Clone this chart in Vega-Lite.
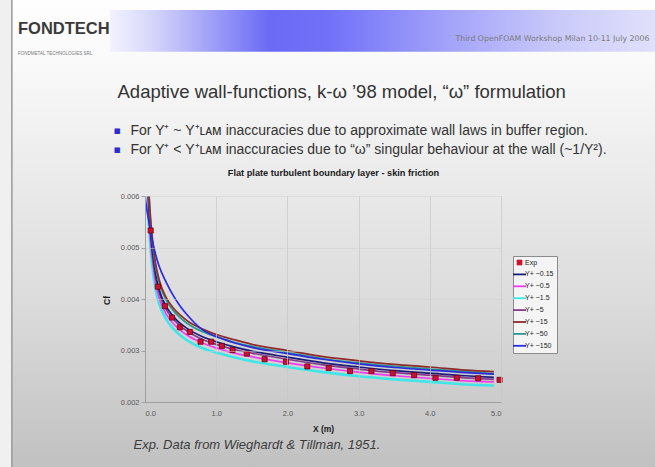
{
  "$schema": "https://vega.github.io/schema/vega-lite/v6.json",
  "width": 356,
  "height": 206,
  "autosize": {"type": "none"},
  "padding": {"left": 145, "top": 196, "right": 154, "bottom": 65},
  "background": "#f0f0f0",
  "config": {"view": {"stroke": null}},
  "title": {
    "text": "FONDTECH",
    "subtitle": "FONDMETAL TECHNOLOGIES SRL",
    "anchor": "start",
    "frame": "group",
    "dx": -127,
    "offset": -77,
    "font": "Liberation Sans",
    "fontSize": 16.5,
    "fontWeight": "bold",
    "color": "#3a3a3a",
    "subtitleFont": "Liberation Sans",
    "subtitleFontSize": 4.5,
    "subtitleColor": "#777777",
    "subtitlePadding": 14
  },
  "datasets": {
    "curves": [
      {"s": "Y+ ~1.5", "x": 0.02, "cf": 0.007}, {"s": "Y+ ~1.5", "x": 0.04, "cf": 0.00588}, {"s": "Y+ ~1.5", "x": 0.06, "cf": 0.00532}, {"s": "Y+ ~1.5", "x": 0.08, "cf": 0.00495}, {"s": "Y+ ~1.5", "x": 0.1, "cf": 0.00467}, {"s": "Y+ ~1.5", "x": 0.15, "cf": 0.00418}, {"s": "Y+ ~1.5", "x": 0.2, "cf": 0.0039}, {"s": "Y+ ~1.5", "x": 0.3, "cf": 0.0036}, {"s": "Y+ ~1.5", "x": 0.4, "cf": 0.00342}, {"s": "Y+ ~1.5", "x": 0.5, "cf": 0.00329}, {"s": "Y+ ~1.5", "x": 0.6, "cf": 0.00319}, {"s": "Y+ ~1.5", "x": 0.8, "cf": 0.00305}, {"s": "Y+ ~1.5", "x": 1.0, "cf": 0.00296}, {"s": "Y+ ~1.5", "x": 1.25, "cf": 0.00287}, {"s": "Y+ ~1.5", "x": 1.5, "cf": 0.00279}, {"s": "Y+ ~1.5", "x": 2.0, "cf": 0.00268}, {"s": "Y+ ~1.5", "x": 2.5, "cf": 0.00258}, {"s": "Y+ ~1.5", "x": 3.0, "cf": 0.0025}, {"s": "Y+ ~1.5", "x": 3.5, "cf": 0.00244}, {"s": "Y+ ~1.5", "x": 4.0, "cf": 0.00239}, {"s": "Y+ ~1.5", "x": 4.5, "cf": 0.00234}, {"s": "Y+ ~1.5", "x": 4.9, "cf": 0.00232},
      {"s": "Y+ ~0.5", "x": 0.02, "cf": 0.00722}, {"s": "Y+ ~0.5", "x": 0.04, "cf": 0.00606}, {"s": "Y+ ~0.5", "x": 0.06, "cf": 0.00548}, {"s": "Y+ ~0.5", "x": 0.08, "cf": 0.0051}, {"s": "Y+ ~0.5", "x": 0.1, "cf": 0.00481}, {"s": "Y+ ~0.5", "x": 0.15, "cf": 0.00431}, {"s": "Y+ ~0.5", "x": 0.2, "cf": 0.00402}, {"s": "Y+ ~0.5", "x": 0.3, "cf": 0.0037}, {"s": "Y+ ~0.5", "x": 0.4, "cf": 0.00352}, {"s": "Y+ ~0.5", "x": 0.5, "cf": 0.00339}, {"s": "Y+ ~0.5", "x": 0.6, "cf": 0.00329}, {"s": "Y+ ~0.5", "x": 0.8, "cf": 0.00315}, {"s": "Y+ ~0.5", "x": 1.0, "cf": 0.00305}, {"s": "Y+ ~0.5", "x": 1.25, "cf": 0.00295}, {"s": "Y+ ~0.5", "x": 1.5, "cf": 0.00288}, {"s": "Y+ ~0.5", "x": 2.0, "cf": 0.00276}, {"s": "Y+ ~0.5", "x": 2.5, "cf": 0.00266}, {"s": "Y+ ~0.5", "x": 3.0, "cf": 0.00258}, {"s": "Y+ ~0.5", "x": 3.5, "cf": 0.00251}, {"s": "Y+ ~0.5", "x": 4.0, "cf": 0.00246}, {"s": "Y+ ~0.5", "x": 4.5, "cf": 0.00241}, {"s": "Y+ ~0.5", "x": 4.9, "cf": 0.00239},
      {"s": "Y+ ~5", "x": 0.02, "cf": 0.00739}, {"s": "Y+ ~5", "x": 0.04, "cf": 0.00621}, {"s": "Y+ ~5", "x": 0.06, "cf": 0.00561}, {"s": "Y+ ~5", "x": 0.08, "cf": 0.00522}, {"s": "Y+ ~5", "x": 0.1, "cf": 0.00493}, {"s": "Y+ ~5", "x": 0.15, "cf": 0.00441}, {"s": "Y+ ~5", "x": 0.2, "cf": 0.00412}, {"s": "Y+ ~5", "x": 0.3, "cf": 0.00379}, {"s": "Y+ ~5", "x": 0.4, "cf": 0.00361}, {"s": "Y+ ~5", "x": 0.5, "cf": 0.00347}, {"s": "Y+ ~5", "x": 0.6, "cf": 0.00337}, {"s": "Y+ ~5", "x": 0.8, "cf": 0.00322}, {"s": "Y+ ~5", "x": 1.0, "cf": 0.00312}, {"s": "Y+ ~5", "x": 1.25, "cf": 0.00302}, {"s": "Y+ ~5", "x": 1.5, "cf": 0.00295}, {"s": "Y+ ~5", "x": 2.0, "cf": 0.00283}, {"s": "Y+ ~5", "x": 2.5, "cf": 0.00272}, {"s": "Y+ ~5", "x": 3.0, "cf": 0.00264}, {"s": "Y+ ~5", "x": 3.5, "cf": 0.00257}, {"s": "Y+ ~5", "x": 4.0, "cf": 0.00252}, {"s": "Y+ ~5", "x": 4.5, "cf": 0.00247}, {"s": "Y+ ~5", "x": 4.9, "cf": 0.00244},
      {"s": "Y+ ~0.15", "x": 0.02, "cf": 0.0075}, {"s": "Y+ ~0.15", "x": 0.04, "cf": 0.0063}, {"s": "Y+ ~0.15", "x": 0.06, "cf": 0.0057}, {"s": "Y+ ~0.15", "x": 0.08, "cf": 0.0053}, {"s": "Y+ ~0.15", "x": 0.1, "cf": 0.005}, {"s": "Y+ ~0.15", "x": 0.15, "cf": 0.00448}, {"s": "Y+ ~0.15", "x": 0.2, "cf": 0.00418}, {"s": "Y+ ~0.15", "x": 0.3, "cf": 0.00385}, {"s": "Y+ ~0.15", "x": 0.4, "cf": 0.00366}, {"s": "Y+ ~0.15", "x": 0.5, "cf": 0.00352}, {"s": "Y+ ~0.15", "x": 0.6, "cf": 0.00342}, {"s": "Y+ ~0.15", "x": 0.8, "cf": 0.00327}, {"s": "Y+ ~0.15", "x": 1.0, "cf": 0.00317}, {"s": "Y+ ~0.15", "x": 1.25, "cf": 0.00307}, {"s": "Y+ ~0.15", "x": 1.5, "cf": 0.00299}, {"s": "Y+ ~0.15", "x": 2.0, "cf": 0.00287}, {"s": "Y+ ~0.15", "x": 2.5, "cf": 0.00276}, {"s": "Y+ ~0.15", "x": 3.0, "cf": 0.00268}, {"s": "Y+ ~0.15", "x": 3.5, "cf": 0.00261}, {"s": "Y+ ~0.15", "x": 4.0, "cf": 0.00256}, {"s": "Y+ ~0.15", "x": 4.5, "cf": 0.00251}, {"s": "Y+ ~0.15", "x": 4.9, "cf": 0.00248},
      {"s": "Y+ ~50", "x": 0.02, "cf": 0.00773}, {"s": "Y+ ~50", "x": 0.04, "cf": 0.00649}, {"s": "Y+ ~50", "x": 0.06, "cf": 0.00587}, {"s": "Y+ ~50", "x": 0.08, "cf": 0.00546}, {"s": "Y+ ~50", "x": 0.1, "cf": 0.00515}, {"s": "Y+ ~50", "x": 0.15, "cf": 0.00461}, {"s": "Y+ ~50", "x": 0.2, "cf": 0.00431}, {"s": "Y+ ~50", "x": 0.3, "cf": 0.00397}, {"s": "Y+ ~50", "x": 0.4, "cf": 0.00377}, {"s": "Y+ ~50", "x": 0.5, "cf": 0.00363}, {"s": "Y+ ~50", "x": 0.6, "cf": 0.00352}, {"s": "Y+ ~50", "x": 0.8, "cf": 0.00337}, {"s": "Y+ ~50", "x": 1.0, "cf": 0.00327}, {"s": "Y+ ~50", "x": 1.25, "cf": 0.00316}, {"s": "Y+ ~50", "x": 1.5, "cf": 0.00308}, {"s": "Y+ ~50", "x": 2.0, "cf": 0.00296}, {"s": "Y+ ~50", "x": 2.5, "cf": 0.00284}, {"s": "Y+ ~50", "x": 3.0, "cf": 0.00276}, {"s": "Y+ ~50", "x": 3.5, "cf": 0.00269}, {"s": "Y+ ~50", "x": 4.0, "cf": 0.00264}, {"s": "Y+ ~50", "x": 4.5, "cf": 0.00259}, {"s": "Y+ ~50", "x": 4.9, "cf": 0.00255},
      {"s": "Y+ ~15", "x": 0.02, "cf": 0.00784}, {"s": "Y+ ~15", "x": 0.04, "cf": 0.00658}, {"s": "Y+ ~15", "x": 0.06, "cf": 0.00596}, {"s": "Y+ ~15", "x": 0.08, "cf": 0.00554}, {"s": "Y+ ~15", "x": 0.1, "cf": 0.00523}, {"s": "Y+ ~15", "x": 0.15, "cf": 0.00468}, {"s": "Y+ ~15", "x": 0.2, "cf": 0.00437}, {"s": "Y+ ~15", "x": 0.3, "cf": 0.00402}, {"s": "Y+ ~15", "x": 0.4, "cf": 0.00382}, {"s": "Y+ ~15", "x": 0.5, "cf": 0.00368}, {"s": "Y+ ~15", "x": 0.6, "cf": 0.00357}, {"s": "Y+ ~15", "x": 0.8, "cf": 0.00342}, {"s": "Y+ ~15", "x": 1.0, "cf": 0.00331}, {"s": "Y+ ~15", "x": 1.25, "cf": 0.00321}, {"s": "Y+ ~15", "x": 1.5, "cf": 0.00312}, {"s": "Y+ ~15", "x": 2.0, "cf": 0.003}, {"s": "Y+ ~15", "x": 2.5, "cf": 0.00288}, {"s": "Y+ ~15", "x": 3.0, "cf": 0.0028}, {"s": "Y+ ~15", "x": 3.5, "cf": 0.00273}, {"s": "Y+ ~15", "x": 4.0, "cf": 0.00268}, {"s": "Y+ ~15", "x": 4.5, "cf": 0.00262}, {"s": "Y+ ~15", "x": 4.9, "cf": 0.00259},
      {"s": "Y+ ~150", "x": 0.003, "cf": 0.00595}, {"s": "Y+ ~150", "x": 0.03, "cf": 0.0057}, {"s": "Y+ ~150", "x": 0.06, "cf": 0.00545}, {"s": "Y+ ~150", "x": 0.1, "cf": 0.00515}, {"s": "Y+ ~150", "x": 0.15, "cf": 0.00486}, {"s": "Y+ ~150", "x": 0.2, "cf": 0.00463}, {"s": "Y+ ~150", "x": 0.3, "cf": 0.00432}, {"s": "Y+ ~150", "x": 0.4, "cf": 0.00406}, {"s": "Y+ ~150", "x": 0.5, "cf": 0.00385}, {"s": "Y+ ~150", "x": 0.6, "cf": 0.00368}, {"s": "Y+ ~150", "x": 0.8, "cf": 0.00341}, {"s": "Y+ ~150", "x": 1.0, "cf": 0.00327}, {"s": "Y+ ~150", "x": 1.25, "cf": 0.00315}, {"s": "Y+ ~150", "x": 1.5, "cf": 0.00306}, {"s": "Y+ ~150", "x": 2.0, "cf": 0.00294}, {"s": "Y+ ~150", "x": 2.5, "cf": 0.00283}, {"s": "Y+ ~150", "x": 3.0, "cf": 0.00274}, {"s": "Y+ ~150", "x": 3.5, "cf": 0.00267}, {"s": "Y+ ~150", "x": 4.0, "cf": 0.00262}, {"s": "Y+ ~150", "x": 4.5, "cf": 0.00257}, {"s": "Y+ ~150", "x": 4.9, "cf": 0.00254}
    ],
    "exp": [
      {"s": "Exp", "x": 0.08, "cf": 0.00533}, {"s": "Exp", "x": 0.18, "cf": 0.00424}, {"s": "Exp", "x": 0.28, "cf": 0.00386}, {"s": "Exp", "x": 0.38, "cf": 0.00364}, {"s": "Exp", "x": 0.49, "cf": 0.00345}, {"s": "Exp", "x": 0.63, "cf": 0.00336}, {"s": "Exp", "x": 0.78, "cf": 0.00317}, {"s": "Exp", "x": 0.93, "cf": 0.00317}, {"s": "Exp", "x": 1.08, "cf": 0.00309}, {"s": "Exp", "x": 1.23, "cf": 0.00301}, {"s": "Exp", "x": 1.43, "cf": 0.00294}, {"s": "Exp", "x": 1.68, "cf": 0.00283}, {"s": "Exp", "x": 1.98, "cf": 0.00278}, {"s": "Exp", "x": 2.28, "cf": 0.00269}, {"s": "Exp", "x": 2.58, "cf": 0.00266}, {"s": "Exp", "x": 2.88, "cf": 0.0026}, {"s": "Exp", "x": 3.18, "cf": 0.0026}, {"s": "Exp", "x": 3.48, "cf": 0.00256}, {"s": "Exp", "x": 3.78, "cf": 0.00252}, {"s": "Exp", "x": 4.08, "cf": 0.00247}, {"s": "Exp", "x": 4.38, "cf": 0.00247}, {"s": "Exp", "x": 4.68, "cf": 0.00246}, {"s": "Exp", "x": 4.98, "cf": 0.00243}
    ]
  },
  "layer": [
    {
      "description": "slide background panel",
      "data": {"values": [{}]},
      "mark": {
        "type": "rect",
        "clip": false,
        "stroke": "#9a9a9a",
        "strokeWidth": 1.5,
        "fill": {
          "gradient": "linear", "x1": 0, "y1": 0, "x2": 0, "y2": 1,
          "stops": [
            {"offset": 0, "color": "#ffffff"},
            {"offset": 0.16, "color": "#fafafa"},
            {"offset": 0.34, "color": "#eeeeee"},
            {"offset": 0.64, "color": "#dcdcdc"},
            {"offset": 1, "color": "#bfbfbf"}
          ]
        }
      },
      "encoding": {
        "x": {
          "datum": -1.87, "type": "quantitative",
          "scale": {"domain": [0, 5], "nice": false, "zero": false},
          "axis": {
            "orient": "top", "labels": false, "ticks": false, "domain": false, "grid": false,
            "title": "Third OpenFOAM Workshop  Milan 10-11 July 2006",
            "titleX": 310, "titleY": -156, "titleAlign": "left", "titleBaseline": "alphabetic",
            "titleFont": "DejaVu Sans", "titleFontSize": 7.8, "titleFontWeight": "normal", "titleColor": "#7a7a7a",
            "zindex": 1
          }
        },
        "x2": {"datum": 7.5},
        "y": {
          "datum": 0.0102, "type": "quantitative",
          "scale": {"domain": [0.002, 0.006], "nice": false, "zero": false},
          "axis": {
            "orient": "left", "labels": false, "ticks": false, "domain": false, "grid": false,
            "title": "Exp. Data from Wieghardt & Tillman, 1951.",
            "titleAngle": 0, "titleX": -12, "titleY": 252, "titleAlign": "left", "titleBaseline": "alphabetic",
            "titleFont": "Liberation Sans", "titleFontStyle": "italic", "titleFontSize": 13, "titleFontWeight": "normal", "titleColor": "#3c3c3c",
            "zindex": 1
          }
        },
        "y2": {"datum": 0.0005}
      }
    },
    {
      "description": "header banner",
      "data": {"values": [{}]},
      "mark": {
        "type": "rect",
        "clip": false,
        "fill": {
          "gradient": "linear", "x1": 0, "y1": 0, "x2": 1, "y2": 0,
          "stops": [
            {"offset": 0, "color": "#f2f2ff"},
            {"offset": 0.07, "color": "#d8d8fb"},
            {"offset": 0.28, "color": "#6a6af5"},
            {"offset": 0.38, "color": "#7070f8"},
            {"offset": 0.6, "color": "#a4a4fa"},
            {"offset": 0.79, "color": "#cacafa"},
            {"offset": 1, "color": "#e6e6fb"}
          ]
        }
      },
      "encoding": {
        "x": {
          "datum": -0.49, "type": "quantitative",
          "axis": {
            "orient": "top", "labels": false, "ticks": false, "domain": false, "grid": false,
            "title": "Adaptive wall-functions, k-ω ’98 model, “ω” formulation",
            "titleX": -28, "titleY": -99, "titleAlign": "left", "titleBaseline": "alphabetic",
            "titleFont": "Liberation Sans", "titleFontSize": 18.5, "titleFontWeight": "normal", "titleColor": "#333333",
            "zindex": 1
          }
        },
        "x2": {"datum": 7.5},
        "y": {
          "datum": 0.00961, "type": "quantitative",
          "axis": {
            "orient": "left", "labels": false, "ticks": false, "domain": false, "grid": false,
            "title": [
              "For Y⁺ ~ Y⁺ʟᴀᴍ inaccuracies due to approximate wall laws in buffer region.",
              "For Y⁺ < Y⁺ʟᴀᴍ inaccuracies due to “ω” singular behaviour at the wall (~1/Y²)."
            ],
            "titleAngle": 0, "titleX": -15, "titleY": -62, "titleAlign": "left", "titleBaseline": "alphabetic",
            "titleLineHeight": 19,
            "titleFont": "Liberation Sans", "titleFontSize": 14, "titleFontWeight": "normal", "titleColor": "#333333",
            "zindex": 1
          }
        },
        "y2": {"datum": 0.0088}
      }
    },
    {
      "description": "simulated skin friction curves",
      "data": {"name": "curves"},
      "mark": {"type": "line", "interpolate": "monotone", "clip": true},
      "encoding": {
        "x": {
          "field": "x", "type": "quantitative",
          "axis": {
            "orient": "bottom", "values": [0, 1, 2, 3, 4, 5], "format": ".1f",
            "labelFont": "Liberation Sans", "labelFontSize": 7.5, "labelColor": "#5a5a5a",
            "ticks": false, "labelPadding": 7, "domainColor": "#a0a0a0",
            "grid": true, "gridColor": "#c8c8c8", "gridOpacity": 0.7,
            "title": "X (m)", "titleX": 178, "titleY": 29, "titleAlign": "center", "titleBaseline": "alphabetic",
            "titleFont": "Liberation Sans", "titleFontSize": 8.5, "titleFontWeight": "bold", "titleColor": "#1a1a1a",
            "zindex": 1
          }
        },
        "y": {
          "field": "cf", "type": "quantitative",
          "axis": {
            "orient": "left", "values": [0.002, 0.003, 0.004, 0.005, 0.006], "format": ".3f",
            "labelFont": "Liberation Sans", "labelFontSize": 7.5, "labelColor": "#5a5a5a",
            "ticks": true, "tickSize": 4, "tickColor": "#a0a0a0", "labelPadding": 2, "domainColor": "#a0a0a0",
            "grid": true, "gridColor": "#d0d0d0", "gridOpacity": 0.5,
            "title": "Cf", "titleX": -39, "titleY": 104, "titleAngle": 270, "titleAlign": "center", "titleBaseline": "middle",
            "titleFont": "Liberation Sans", "titleFontSize": 8.5, "titleFontWeight": "bold", "titleColor": "#1a1a1a",
            "zindex": 1
          }
        },
        "color": {
          "field": "s", "type": "nominal",
          "scale": {
            "domain": ["Exp", "Y+ ~0.15", "Y+ ~0.5", "Y+ ~1.5", "Y+ ~5", "Y+ ~15", "Y+ ~50", "Y+ ~150"],
            "range": ["#cc1030", "#1c1c78", "#f03cf0", "#3ee6ea", "#873a8c", "#8e2a2a", "#2a9a8e", "#2a2ae0"]
          },
          "legend": {
            "orient": "none", "legendX": 368, "legendY": 60, "direction": "vertical",
            "title": null, "fillColor": "#f4f4f4", "strokeColor": "#8c8c8c", "padding": 3,
            "labelFont": "Liberation Sans", "labelFontSize": 7, "labelColor": "#222222",
            "rowPadding": 2.9, "labelOffset": 2,
            "encode": {
              "symbols": {
                "update": {
                  "shape": {"signal": "datum.value === 'Exp' ? 'square' : 'stroke'"},
                  "size": {"signal": "datum.value === 'Exp' ? 24 : 170"},
                  "fill": {"signal": "datum.value === 'Exp' ? scale('color', datum.value) : 'transparent'"},
                  "stroke": {"signal": "datum.value === 'Exp' ? '#6e0010' : scale('color', datum.value)"},
                  "strokeWidth": {"signal": "datum.value === 'Exp' ? 0.8 : 1.8"},
                  "opacity": {"value": 1}
                }
              }
            }
          }
        },
        "strokeWidth": {
          "condition": {"test": "datum.s === 'Y+ ~1.5'", "value": 2.6},
          "value": 1.7
        }
      }
    },
    {
      "description": "measured skin friction",
      "data": {"name": "exp"},
      "mark": {"type": "square", "size": 26, "stroke": "#6e0010", "strokeWidth": 0.8, "opacity": 1},
      "encoding": {
        "x": {
          "field": "x", "type": "quantitative",
          "axis": {
            "orient": "top", "labels": false, "ticks": false, "domain": false, "grid": false,
            "title": "Flat plate turbulent boundary layer - skin friction",
            "titleX": 188, "titleY": -21, "titleAlign": "center", "titleBaseline": "alphabetic",
            "titleFont": "Liberation Sans", "titleFontSize": 9.2, "titleFontWeight": "bold", "titleColor": "#1a1a1a",
            "zindex": 1
          }
        },
        "y": {
          "field": "cf", "type": "quantitative",
          "axis": {
            "orient": "left", "labels": false, "ticks": false, "domain": false, "grid": false,
            "title": ["▪", "▪"],
            "titleAngle": 0, "titleX": -32, "titleY": -62.5, "titleAlign": "left", "titleBaseline": "alphabetic",
            "titleLineHeight": 19,
            "titleFont": "DejaVu Sans", "titleFontSize": 11, "titleFontWeight": "normal", "titleColor": "#2c2cd0",
            "zindex": 1
          }
        },
        "color": {"field": "s", "type": "nominal"}
      }
    }
  ],
  "resolve": {"axis": {"x": "independent", "y": "independent"}}
}
